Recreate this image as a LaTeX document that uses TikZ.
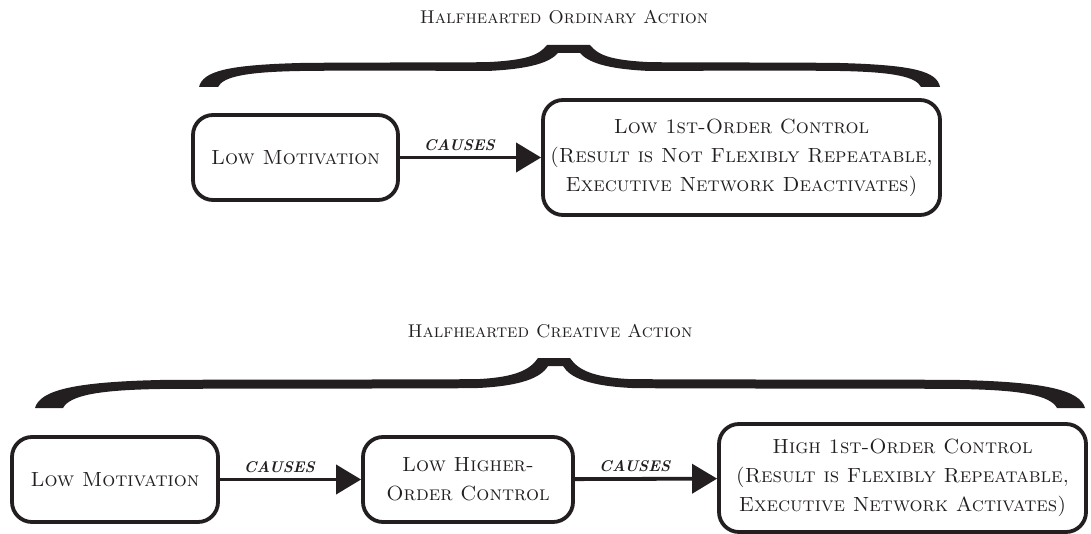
\documentclass[tikz,border=0pt]{standalone}
\usetikzlibrary{arrows.meta}
\definecolor{ink}{RGB}{35,31,32}
\begin{document}
\begin{tikzpicture}[x=1pt,y=-1pt,
  every node/.style={text=ink},
  boxtext/.style={font=\fontsize{20.5}{29}\selectfont\scshape},
  box/.style={boxtext, draw=ink, line width=3.8pt, rounded corners=20pt,
    align=center, inner sep=0pt},
  title/.style={font=\fontsize{18.5}{22}\selectfont\scshape},
  causes/.style={draw=ink, line width=3.8pt,
    -{Triangle[length=25pt,width=29pt]}},
  causelabel/.style={pos=0.42, above=5pt, inner sep=0pt,
    font=\fontsize{15.5}{15.5}\selectfont\bfseries\itshape},
  bracefill/.style={fill=ink}
]
\useasboundingbox (0,0) rectangle (1091,534);

% ---- upper row: halfhearted ordinary action ----
\node[title] (t1) at (564,17) {Halfhearted Ordinary Action};
\fill[bracefill] (199,87) .. controls (203,71) and (228,65) .. (300,63)
  .. controls (380,62) and (450,63) .. (490,62)
  .. controls (527,60) and (539,55) .. (547,45)
  -- (590,45)
  .. controls (598,55) and (610,60) .. (647,62)
  .. controls (690,63) and (760,62) .. (840,63)
  .. controls (912,65) and (937,71) .. (940,87)
  -- (921,87)
  .. controls (916,77) and (895,72) .. (840,71)
  .. controls (760,70) and (690,71) .. (650,71)
  .. controls (605,69) and (588,62) .. (580,53)
  -- (558,53)
  .. controls (550,62) and (532,69) .. (487,71)
  .. controls (450,71) and (380,70) .. (300,71)
  .. controls (244,72) and (223,77) .. (218,87)
  -- cycle;

\node[box, minimum width=205pt, minimum height=85pt] (a1) at (295.5,157.5)
  {Low Motivation};
\node[box, minimum width=397pt, minimum height=115pt] (b1) at (741.5,157.5)
  {Low 1st-Order Control\\(Result is Not Flexibly Repeatable,\\Executive Network Deactivates)};
\draw[causes] (a1) -- node[causelabel] (c1) {CAUSES} (b1);

% ---- lower row: halfhearted creative action ----
\node[title] (t2) at (550,331) {Halfhearted Creative Action};
\fill[bracefill] (35,408) .. controls (40,390) and (75,382) .. (160,380)
  .. controls (300,379) and (420,380) .. (480,379)
  .. controls (515,377) and (530,370) .. (538,358)
  -- (570,358)
  .. controls (578,370) and (593,377) .. (628,379)
  .. controls (700,380) and (850,379) .. (960,380)
  .. controls (1045,382) and (1080,390) .. (1085,408)
  -- (1057,408)
  .. controls (1050,395) and (1020,390) .. (960,389)
  .. controls (850,388) and (700,389) .. (632,388)
  .. controls (590,386) and (570,378) .. (563,366)
  -- (548,366)
  .. controls (541,378) and (520,386) .. (478,388)
  .. controls (420,389) and (300,388) .. (160,389)
  .. controls (100,390) and (70,395) .. (63,408)
  -- cycle;

\node[box, minimum width=206pt, minimum height=85pt] (a2) at (115,479.5)
  {Low Motivation};
\node[box, minimum width=210pt, minimum height=85pt] (b2) at (468,479.5)
  {Low Higher-\\Order Control};
\node[box, minimum width=367pt, minimum height=108pt] (c2) at (902.5,478)
  {High 1st-Order Control\\(Result is Flexibly Repeatable,\\Executive Network Activates)};
\draw[causes] (a2) -- node[causelabel] (c2l) {CAUSES} (b2);
\draw[causes] (b2) -- node[causelabel] (c3l) {CAUSES} (c2);
\end{tikzpicture}
\end{document}
